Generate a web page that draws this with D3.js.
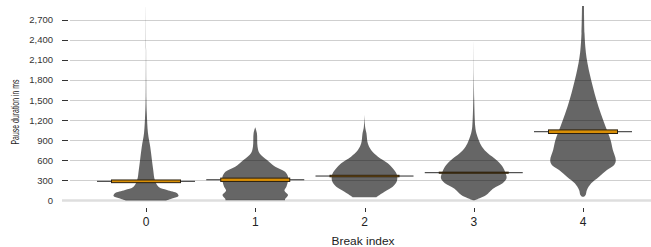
<!DOCTYPE html>
<html>
<head>
<meta charset="utf-8">
<script src="https://cdn.jsdelivr.net/npm/d3@7"></script>
<style>
  html, body { margin: 0; padding: 0; background: #fff; }
  svg { display: block; }
  text { font-family: "Liberation Sans", Arial, Helvetica, sans-serif; }
</style>
</head>
<body>
<svg id="chart" width="651" height="247"></svg>
<script>
// ---- data ----
const categories = ["0", "1", "2", "3", "4"];
const yTicks = [0, 300, 600, 900, 1200, 1500, 1800, 2100, 2400, 2700];

// violin profiles: [pause duration (ms), relative density 0..1]
const violin0 = [[0,0.61],[33,0.82],[67,0.99],[108,0.95],[157,0.64],[206,0.38],[307,0.27],[456,0.22],[606,0.18],[800,0.13],[1008,0.06],[1300,0.025],[1500,0.012],[1755,0.007],[2250,0.003],[2925,0]];
const violin1 = [[5,0.91],[22,0.91],[82,1.0],[147,0.89],[206,0.95],[300,1.0],[356,1.0],[431,0.91],[506,0.61],[606,0.36],[708,0.13],[805,0.07],[1008,0.05],[1095,0]];
const violin2 = [[47,0.36],[67,0.41],[132,0.61],[206,0.86],[281,0.98],[356,1.0],[407,0.97],[481,0.86],[556,0.71],[655,0.41],[755,0.2],[855,0.1],[1005,0.06],[1100,0.02],[1289,0]];
const violin3 = [[5,0.03],[33,0.18],[82,0.38],[132,0.49],[182,0.61],[257,0.88],[332,1.0],[407,0.97],[506,0.88],[606,0.69],[706,0.43],[805,0.25],[905,0.15],[1005,0.08],[1104,0.046],[1503,0.014],[1803,0.005],[2376,0]];
const violin4 = [[57,0.03],[82,0.08],[157,0.12],[257,0.25],[356,0.49],[456,0.73],[531,0.95],[606,1.0],[755,0.91],[905,0.84],[1104,0.69],[1305,0.54],[1503,0.41],[1703,0.3],[1903,0.2],[2102,0.12],[2251,0.08],[2501,0.046],[2910,0.03]];
const violins = [violin0, violin1, violin2, violin3, violin4];

// summary bars: mean and half-height of the interval box
const means = [287, 310, 366, 416, 1029];
const intervals = [20, 25, 11, 8, 27];

// ---- chart ----
const svg = d3.select("#chart");
const x = d3.scalePoint().domain(categories).range([146, 583]);
const y = d3.scaleLinear().domain([0, 2700]).range([200.5, 20]);
const w = d3.scaleLinear().domain([0, 1]).range([0, 32.8]);

// grid
const grid = svg.append("g");
grid.selectAll("line.g").data(yTicks.filter(d => d > 0)).join("line")
  .attr("x1", 70).attr("x2", 651)
  .attr("y1", d => Math.round(y(d)) + 0.5).attr("y2", d => Math.round(y(d)) + 0.5)
  .attr("stroke", "#cfcfcf").attr("stroke-width", 1);
grid.append("line")
  .attr("x1", 62).attr("x2", 651).attr("y1", y(0)).attr("y2", y(0))
  .attr("stroke", "#dedede").attr("stroke-width", 2.5);

// y axis ticks + labels
const yAxis = svg.append("g");
yAxis.selectAll("line").data(yTicks.filter(d => d > 0)).join("line")
  .attr("x1", 62).attr("x2", 68)
  .attr("y1", d => Math.round(y(d)) + 0.5).attr("y2", d => Math.round(y(d)) + 0.5)
  .attr("stroke", "#333").attr("stroke-width", 1);
const fmt = d3.format(",");
yAxis.selectAll("text").data(yTicks).join("text")
  .attr("x", 53).attr("y", d => y(d)).attr("dy", "0.35em")
  .attr("text-anchor", "end").attr("font-size", 9.5).attr("fill", "#333")
  .text(d => fmt(d));

svg.append("text")
  .attr("transform", "translate(19,112) rotate(-90)")
  .attr("text-anchor", "middle").attr("font-size", 10).attr("fill", "#222")
  .attr("textLength", 65).attr("lengthAdjust", "spacingAndGlyphs")
  .text("Pause duration in ms");

// violins
const area = d3.area()
  .curve(d3.curveCatmullRom.alpha(0.5))
  .y(d => y(d[0]));
svg.append("g").selectAll("path").data(violins).join("path")
  .attr("d", (v, i) => area
      .x0(d => x(categories[i]) - w(d[1]))
      .x1(d => x(categories[i]) + w(d[1]))(v))
  .attr("fill", "#000").attr("fill-opacity", 0.6);

// summary bars
const bars = svg.append("g");
bars.selectAll("line").data(means).join("line")
  .attr("x1", (d, i) => x(categories[i]) - 49).attr("x2", (d, i) => x(categories[i]) + 49)
  .attr("y1", d => y(d)).attr("y2", d => y(d))
  .attr("stroke", "#2b2b2b").attr("stroke-width", 1);
bars.selectAll("rect").data(means).join("rect")
  .attr("x", (d, i) => x(categories[i]) - 34.5).attr("width", 69)
  .attr("y", (d, i) => y(d + intervals[i])).attr("height", (d, i) => y(d - intervals[i]) - y(d + intervals[i]))
  .attr("fill", "#d98f06").attr("stroke", "#2b2010").attr("stroke-width", 1);

// x axis
const xAxis = svg.append("g");
xAxis.selectAll("line").data(categories).join("line")
  .attr("x1", d => Math.round(x(d)) + 0.5).attr("x2", d => Math.round(x(d)) + 0.5)
  .attr("y1", 208).attr("y2", 212).attr("stroke", "#333");
xAxis.selectAll("text").data(categories).join("text")
  .attr("x", d => x(d)).attr("y", 226)
  .attr("text-anchor", "middle").attr("font-size", 12).attr("fill", "#222")
  .text(d => d);
svg.append("text")
  .attr("x", 363).attr("y", 245)
  .attr("text-anchor", "middle").attr("font-size", 10).attr("fill", "#222")
  .attr("textLength", 63).attr("lengthAdjust", "spacingAndGlyphs")
  .text("Break index");
</script>
</body>
</html>
